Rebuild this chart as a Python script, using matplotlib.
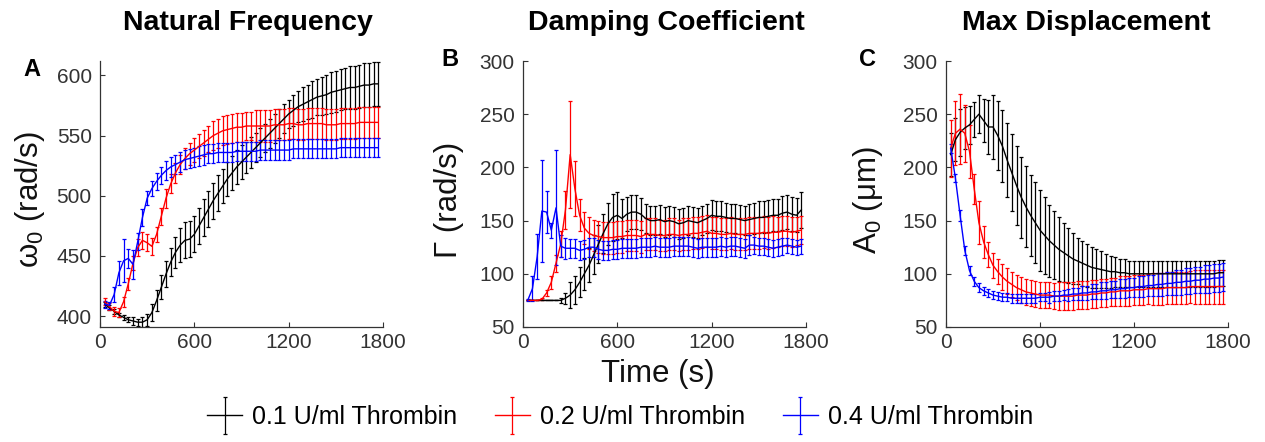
import numpy as np
import matplotlib
matplotlib.use("Agg")
import matplotlib.pyplot as plt
from matplotlib.legend_handler import HandlerErrorbar
from matplotlib.container import ErrorbarContainer

plt.rcParams["font.family"] = ["Liberation Sans", "DejaVu Sans"]
plt.rcParams["mathtext.fontset"] = "custom"
plt.rcParams["mathtext.rm"] = "Liberation Sans"
plt.rcParams["mathtext.it"] = "Liberation Sans"

# sample times (s)
t = np.arange(30, 1800, 30)

labels = ["0.1 U/ml Thrombin", "0.2 U/ml Thrombin", "0.4 U/ml Thrombin"]
colors = ["#000000", "#ff0000", "#0000ff"]

# Natural frequency (rad/s)
w_01 = [410, 407, 404, 401, 399, 397, 396, 395, 395, 397,
        403, 413, 424, 435, 445, 453, 459, 463, 464, 468,
        475, 482, 489, 496, 502, 508, 514, 519, 524, 528,
        532, 536, 540, 544, 548, 552, 556, 560, 564, 568,
        571, 574, 576, 578, 580, 582, 583, 584, 586, 587,
        588, 589, 590, 590, 591, 592, 592, 593, 593]
w_01_err = [2, 2, 2, 2, 2, 2, 3, 3, 4, 5,
            7, 9, 10, 11, 12, 13, 14, 15, 15, 15,
            15, 15, 15, 15, 15, 14, 14, 14, 14, 14,
            13, 13, 12, 12, 12, 12, 12, 12, 12, 12,
            13, 13, 14, 14, 15, 15, 16, 16, 17, 17,
            17, 17, 18, 18, 18, 18, 18, 18, 18]
w_02 = [412, 408, 404, 403, 412, 427, 444, 457, 463, 461,
        458, 468, 483, 498, 510, 519, 526, 531, 535, 538,
        541, 544, 547, 550, 552, 554, 555, 556, 557, 557,
        558, 558, 558, 558, 558, 558, 559, 559, 559, 560,
        560, 559, 559, 560, 560, 560, 560, 559, 559, 559,
        560, 560, 560, 560, 561, 561, 561, 561, 561]
w_02_err = [3, 3, 4, 4, 4, 5, 6, 7, 7, 7,
            7, 6, 7, 8, 8, 8, 8, 9, 9, 10,
            10, 11, 11, 12, 12, 12, 12, 12, 12, 12,
            12, 12, 13, 13, 13, 13, 13, 13, 13, 13,
            13, 13, 13, 13, 13, 13, 13, 13, 13, 13,
            13, 13, 13, 13, 13, 13, 13, 13, 13]
w_04 = [410, 409, 418, 436, 446, 448, 443, 462, 482, 498,
        506, 512, 517, 521, 524, 526, 528, 530, 531, 532,
        533, 534, 535, 535, 536, 536, 536, 536, 537, 537,
        537, 537, 537, 538, 538, 538, 538, 538, 538, 538,
        539, 539, 539, 539, 539, 539, 539, 539, 539, 539,
        540, 540, 540, 540, 540, 540, 540, 540, 540]
w_04_err = [3, 3, 6, 10, 18, 8, 12, 7, 7, 6,
            6, 7, 7, 8, 8, 8, 8, 8, 8, 8,
            8, 8, 8, 8, 8, 8, 8, 8, 8, 8,
            8, 8, 8, 8, 8, 8, 8, 8, 8, 8,
            8, 8, 8, 8, 8, 8, 8, 8, 8, 8,
            8, 8, 8, 8, 8, 8, 8, 8, 8]

# Damping coefficient (rad/s)
g_01 = [75, 75, 75, 75, 75, 75, 75, 75, 77, 80,
        85, 92, 100, 108, 118, 128, 138, 147, 153, 155,
        152, 156, 158, 158, 156, 152, 150, 150, 151, 149,
        150, 149, 147, 148, 150, 149, 148, 150, 152, 155,
        154, 154, 153, 152, 152, 151, 150, 151, 152, 153,
        153, 154, 155, 155, 157, 158, 156, 155, 160]
g_01_err = [0, 0, 0, 0, 0, 0, 0, 2, 5, 12,
            13, 14, 15, 16, 18, 18, 18, 20, 22, 22,
            18, 16, 16, 16, 15, 14, 14, 14, 14, 14,
            14, 14, 14, 14, 14, 14, 14, 14, 14, 14,
            14, 14, 14, 14, 14, 14, 14, 15, 15, 15,
            15, 15, 15, 15, 16, 16, 16, 16, 17]
g_02 = [75, 75, 75, 76, 82, 92, 110, 128, 160, 212,
        180, 155, 143, 138, 136, 135, 134, 134, 134, 135,
        135, 136, 136, 136, 135, 137, 137, 137, 136, 136,
        137, 137, 136, 137, 137, 138, 138, 139, 140, 138,
        138, 137, 137, 138, 137, 137, 137, 138, 138, 138,
        139, 138, 139, 139, 140, 140, 139, 140, 141]
g_02_err = [0, 0, 0, 1, 3, 6, 8, 12, 18, 50,
            26, 15, 15, 15, 15, 15, 15, 15, 15, 15,
            15, 15, 15, 15, 15, 15, 15, 15, 15, 15,
            15, 15, 15, 15, 15, 15, 15, 15, 15, 15,
            15, 15, 15, 15, 15, 15, 15, 15, 15, 15,
            15, 15, 15, 14, 14, 14, 14, 13, 13]
g_04 = [75, 86, 116, 159, 158, 141, 162, 126, 124, 124,
        124, 122, 123, 125, 125, 123, 122, 122, 123, 123,
        124, 124, 124, 124, 125, 125, 125, 126, 125, 125,
        125, 126, 126, 126, 126, 125, 124, 125, 125, 125,
        125, 126, 125, 126, 126, 125, 124, 127, 127, 126,
        126, 125, 124, 125, 126, 127, 126, 125, 126]
g_04_err = [1, 12, 21, 48, 20, 7, 54, 10, 10, 9,
            9, 9, 9, 9, 9, 9, 9, 9, 9, 9,
            9, 9, 9, 9, 9, 9, 9, 9, 9, 9,
            9, 9, 9, 9, 9, 9, 9, 9, 9, 9,
            9, 9, 9, 9, 9, 9, 9, 9, 8, 8,
            8, 8, 8, 8, 8, 7, 7, 7, 7]

# Max displacement (um)
a_01 = [212, 226, 233, 237, 240, 245, 250, 244, 238, 238,
        230, 220, 207, 195, 183, 172, 163, 155, 148, 141,
        136, 131, 127, 123, 120, 117, 114, 112, 110, 108,
        106, 105, 104, 103, 102, 102, 101, 101, 100, 100,
        100, 100, 100, 100, 100, 100, 100, 100, 100, 100,
        100, 100, 100, 100, 100, 100, 100, 101, 101]
a_01_err = [20, 20, 22, 20, 18, 16, 18, 20, 25, 30,
            32, 34, 35, 36, 37, 38, 38, 38, 38, 38,
            36, 34, 32, 30, 28, 26, 24, 22, 21, 20,
            19, 18, 17, 16, 15, 14, 13, 13, 12, 12,
            12, 12, 12, 12, 12, 12, 12, 12, 12, 12,
            12, 12, 12, 12, 12, 12, 12, 12, 12]
a_02 = [218, 232, 236, 232, 215, 180, 148, 130, 118, 108,
        102, 97, 93, 90, 87, 85, 83, 82, 81, 80,
        80, 80, 79, 79, 79, 79, 79, 80, 80, 80,
        81, 81, 82, 82, 83, 83, 84, 84, 84, 85,
        85, 85, 86, 86, 86, 86, 87, 87, 87, 87,
        87, 88, 88, 88, 88, 88, 88, 88, 88]
a_02_err = [27, 30, 33, 27, 25, 14, 20, 15, 12, 12,
            12, 12, 12, 12, 12, 12, 12, 12, 12, 12,
            12, 12, 12, 13, 13, 13, 13, 13, 13, 13,
            13, 13, 13, 13, 13, 13, 14, 14, 14, 14,
            14, 14, 14, 15, 15, 15, 15, 15, 15, 15,
            15, 15, 16, 16, 16, 16, 16, 16, 16]
a_04 = [218, 190, 155, 122, 103, 93, 87, 84, 82, 80,
        79, 78, 78, 77, 77, 77, 77, 77, 77, 78,
        78, 78, 79, 79, 80, 80, 81, 81, 82, 82,
        83, 83, 84, 84, 85, 85, 86, 86, 87, 87,
        88, 88, 89, 89, 90, 90, 91, 91, 92, 92,
        93, 93, 94, 94, 95, 95, 96, 96, 97]
a_04_err = [4, 4, 5, 4, 4, 4, 4, 4, 4, 4,
            4, 4, 4, 4, 4, 4, 4, 4, 4, 4,
            4, 5, 5, 5, 5, 6, 6, 6, 7, 7,
            7, 7, 8, 8, 8, 8, 9, 9, 9, 9,
            10, 10, 10, 10, 11, 11, 11, 11, 12, 12,
            12, 12, 12, 12, 13, 13, 13, 13, 13]

panels = [
    ("Natural Frequency", "A", "ω$_0$ (rad/s)", (391, 612), [400, 450, 500, 550, 600],
     [(w_01, w_01_err), (w_02, w_02_err), (w_04, w_04_err)]),
    ("Damping Coefficient", "B", "Γ (rad/s)", (50, 300), [50, 100, 150, 200, 250, 300],
     [(g_01, g_01_err), (g_02, g_02_err), (g_04, g_04_err)]),
    ("Max Displacement", "C", "A$_0$ (μm)", (50, 300), [50, 100, 150, 200, 250, 300],
     [(a_01, a_01_err), (a_02, a_02_err), (a_04, a_04_err)]),
]

W, H = 1265, 442
fig = plt.figure(figsize=(W / 100, H / 100), dpi=100)

# axes boxes in pixels (left, right)
boxes = [(100, 383), (523, 806), (946, 1228)]
top_px, bot_px = 61, 327
title_x = [248, 666, 1086]
ylabel_x = [30, 449, 868]
letter_pos = [(32, 70), (450, 59), (868, 59)]
grey = "#333333"

handles = []
for i, (title, letter, ylab, ylim, yticks, series) in enumerate(panels):
    l, r = boxes[i]
    ax = fig.add_axes([l / W, 1 - bot_px / H, (r - l) / W, (bot_px - top_px) / H])
    for (y, e), c, lab in zip(series, colors, labels):
        h = ax.errorbar(t, y, yerr=e, color=c, lw=1.0, elinewidth=0.9,
                        capsize=1.6, capthick=0.9, label=lab)
        if i == 0:
            handles.append(h)
    ax.set_xlim(0, 1800)
    ax.set_ylim(*ylim)
    ax.set_xticks([0, 600, 1200, 1800])
    ax.set_yticks(yticks)
    for s in ["top", "right"]:
        ax.spines[s].set_visible(False)
    for s in ["left", "bottom"]:
        ax.spines[s].set_color(grey)
        ax.spines[s].set_linewidth(0.9)
    ax.tick_params(direction="in", length=3.5, width=0.8, colors=grey,
                   labelsize=15)
    ax.tick_params(axis="y", pad=6)
    ax.tick_params(axis="x", pad=4)
    fig.text(title_x[i] / W, 1 - 23 / H, title, ha="center", va="center",
             fontsize=20.5, fontweight="bold")
    fig.text(letter_pos[i][0] / W, 1 - letter_pos[i][1] / H, letter,
             ha="center", va="center", fontsize=17, fontweight="bold")
    fig.text(ylabel_x[i] / W, 1 - 200 / H, ylab, rotation=90,
             ha="center", va="center", fontsize=22.5, color="#111111")

fig.text(658 / W, 1 - 374 / H, "Time (s)", ha="center", va="center",
         fontsize=22.5, color="#111111")

fig.legend(handles=handles, labels=labels, loc="center",
           bbox_to_anchor=(620 / W, 1 - 417 / H), ncol=3, frameon=False,
           fontsize=18, handlelength=1.4, handletextpad=0.4, columnspacing=1.5,
           handler_map={ErrorbarContainer: HandlerErrorbar(xerr_size=0.5, yerr_size=0.75)})

fig.savefig("out.png", dpi=100)
